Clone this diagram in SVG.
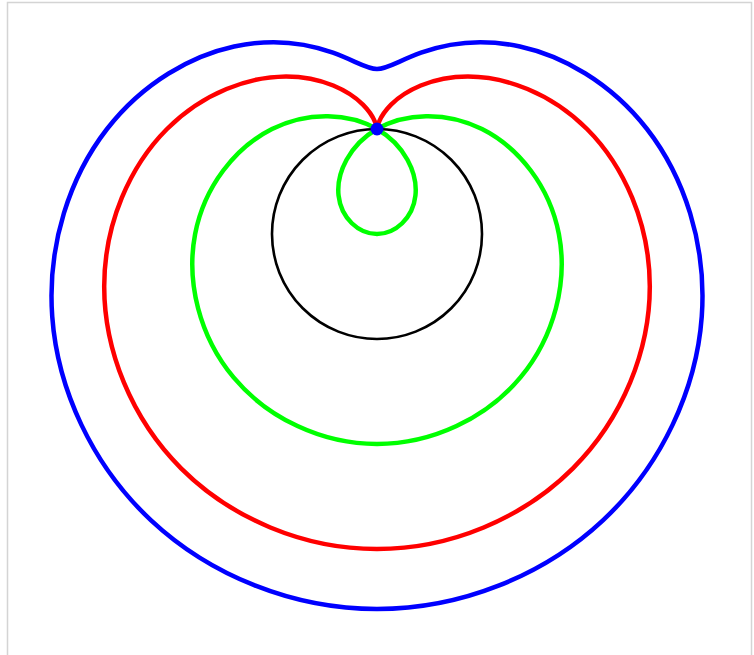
<svg xmlns="http://www.w3.org/2000/svg" width="754" height="655" viewBox="0 0 754 655">
<style>
.curve{fill:none;stroke-width:4.5;stroke-linejoin:round}
</style>
<rect x="0" y="0" width="754" height="655" fill="#ffffff"/>
<rect id="frame" x="7.5" y="2.5" width="744" height="660" fill="none" stroke="#d4d4d4" stroke-width="1.5"/>
<g id="curves">
<path id="blue" class="curve" stroke="#0000ff" d="M377,609 C460.78,609 543.79,575.63 602.93,520.33 C662.07,465.03 696.52,389.05 701.76,316.5 C707,243.95 683.65,176.12 647,129 C610.35,81.88 561.79,55.57 519.9,46.5 C478.01,37.43 443.55,44.49 421.07,52.67 C398.59,60.85 387.47,69 377,69 C366.53,69 355.41,60.85 332.93,52.67 C310.45,44.49 275.99,37.43 234.1,46.5 C192.21,55.57 143.65,81.88 107,129 C70.35,176.12 47,243.95 52.24,316.5 C57.48,389.05 91.93,465.03 151.07,520.33 C210.21,575.63 293.22,609 377,609 Z"/>
<path id="red" class="curve" stroke="#ff0000" d="M377,549 C450.3,549 522.86,518.44 572.93,468.37 C623,418.3 649.8,349.98 649.8,286.5 C649.8,223.02 623.65,165.65 587,129 C550.35,92.35 504.58,76.5 467.93,76.5 C431.28,76.5 404.49,91.21 391.07,104.63 C377.65,118.05 377,129 377,129 C377,129 376.35,118.05 362.93,104.63 C349.51,91.21 322.72,76.5 286.07,76.5 C249.42,76.5 203.65,92.35 167,129 C130.35,165.65 104.2,223.02 104.2,286.5 C104.2,349.98 131,418.3 181.07,468.37 C231.14,518.44 303.7,549 377,549 Z"/>
<path id="green" class="curve" stroke="#00ff00" d="M377,444 C431.98,444 486.23,418.34 520.43,377.43 C554.63,336.52 568.03,281.61 558.87,234 C549.71,186.39 518.65,147.33 482,129 C445.35,110.67 404.49,113.13 377,129 C349.51,144.87 336.11,172.99 338.57,195.57 C341.03,218.15 358.67,234 377,234 C395.33,234 412.97,218.15 415.43,195.57 C417.89,172.99 404.49,144.87 377,129 C349.51,113.13 308.65,110.67 272,129 C235.35,147.33 204.29,186.39 195.13,234 C185.97,281.61 199.37,336.52 233.57,377.43 C267.77,418.34 322.02,444 377,444 Z"/>
<circle id="circle" cx="377" cy="234" r="105" fill="none" stroke="#000000" stroke-width="2.6"/>
</g>
<g id="pole"><circle cx="377" cy="129" r="6.5" fill="#0000ff"/></g>
</svg>
